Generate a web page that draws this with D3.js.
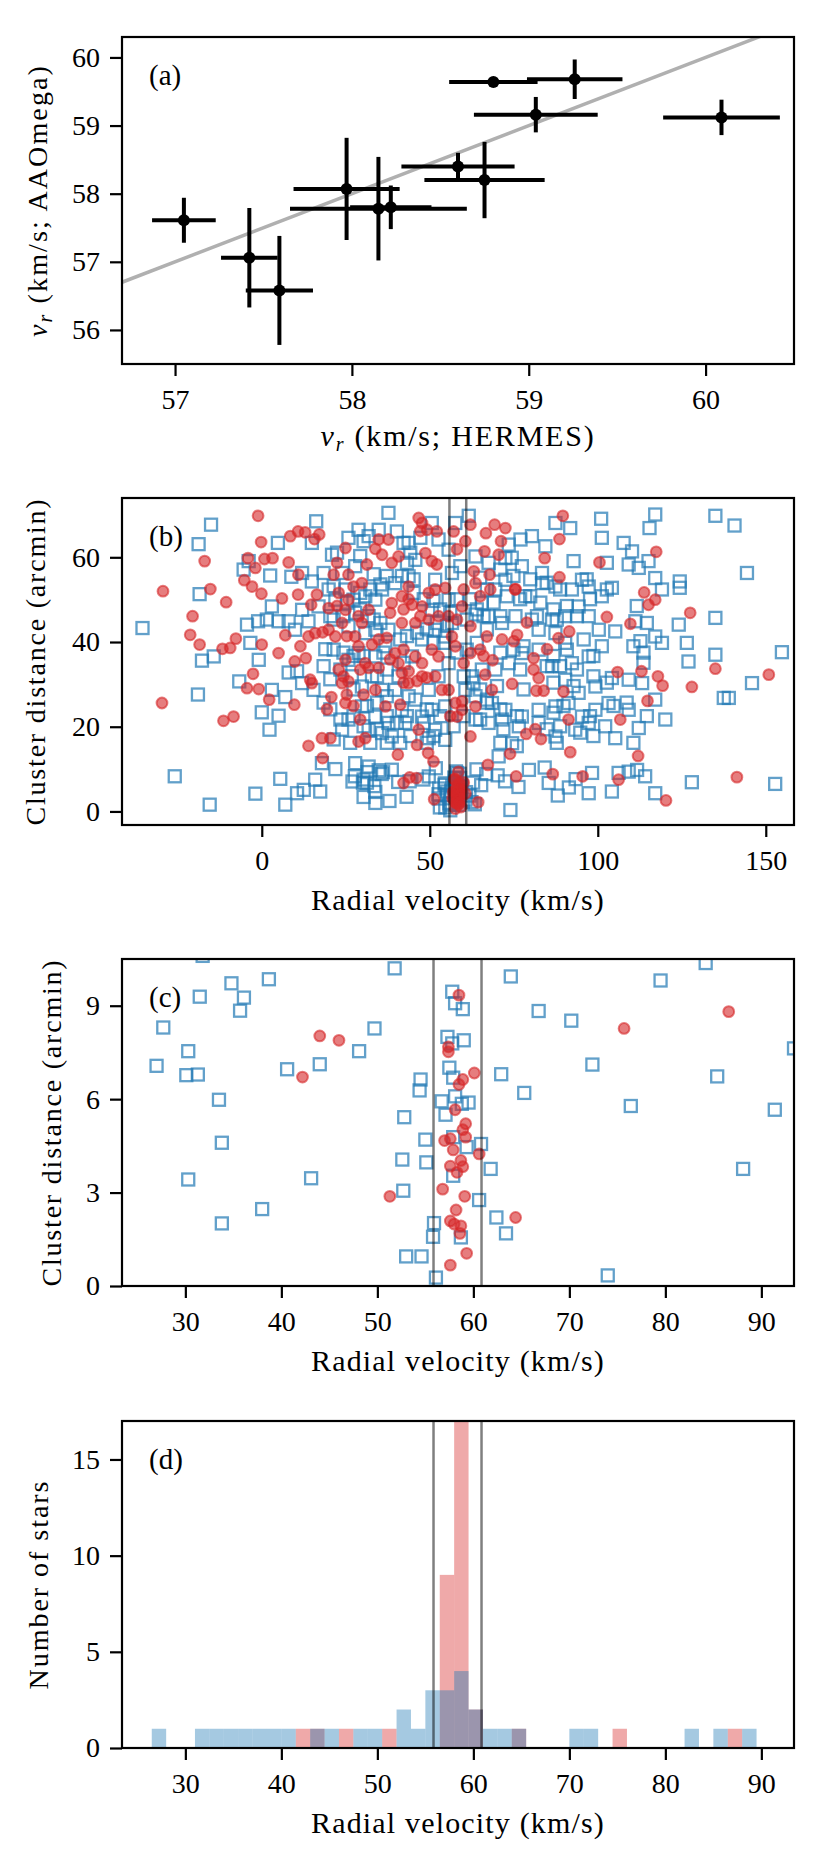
<!DOCTYPE html>
<html>
<head>
<meta charset="utf-8">
<script src="https://cdn.jsdelivr.net/npm/d3@7"></script>
<style>
  html, body { margin: 0; padding: 0; background: #fff; }
  text { font-family: "Liberation Serif", "DejaVu Serif", serif; }
</style>
</head>
<body>
<div id="fig"></div>
<script>
// ---- panel (a): HERMES vs AAOmega velocities ----
var hermesV   = [57.05, 57.42, 57.59, 57.97, 58.15, 58.22, 58.60, 58.75, 58.80, 59.04, 59.26, 60.09];
var hermesErr = [0.18, 0.16, 0.19, 0.30, 0.50, 0.23, 0.32, 0.34, 0.25, 0.35, 0.27, 0.33];
var aaoV      = [57.61, 57.06, 56.58, 58.07, 57.78, 57.80, 58.40, 58.20, 59.64, 59.16, 59.68, 59.12];
var aaoErr    = [0.33, 0.73, 0.80, 0.75, 0.76, 0.32, 0.20, 0.56, 0.05, 0.26, 0.29, 0.26];

// ---- panels (b), (c): [radial velocity, cluster distance] ----
// stars close to the cluster (the region shown in panel c)
var nearBlue = [[27.0,7.07],[27.7,8.30],[30.3,7.54],[30.1,6.77],[31.3,6.79],[31.5,9.29],[34.8,9.72],[36.1,9.26],
  [35.7,8.84],[38.7,9.85],[33.5,5.98],[33.8,4.60],[30.3,3.42],[33.8,2.01],[38.0,2.47],[43.1,3.46],[40.6,6.96],
  [44.0,7.12],[48.1,7.54],[49.7,8.27],[51.8,10.2],[54.5,6.63],[54.4,6.28],[52.8,5.42],[55.0,4.70],[55.1,3.97],
  [52.6,4.06],[52.7,3.06],[53.0,0.95],[54.6,0.95],[55.9,2.02],[55.8,1.58],[56.1,0.27],[57.8,9.45],[58.1,9.08],
  [58.9,8.89],[57.3,8.00],[59.0,7.89],[57.8,7.79],[57.5,7.01],[57.9,6.69],[56.7,5.93],[59.5,5.89],[57.1,5.50],
  [58.1,6.09],[58.8,5.85],[57.9,4.78],[59.3,4.46],[60.8,4.56],[61.8,3.76],[57.9,3.54],[60.6,2.76],[62.4,2.20],
  [63.4,1.69],[58.7,1.56],[62.9,6.80],[63.9,9.94],[65.3,6.20],[66.8,8.83],[70.2,8.52],[72.4,7.11],[76.4,5.78],
  [79.5,9.81],[84.2,10.37],[85.4,6.73],[88.1,3.76],[91.4,5.66],[93.4,7.63],[74.0,0.34]];
var nearRed = [[44.0,8.03],[46.0,7.89],[42.2,6.71],[51.3,2.88],[58.5,9.34],[57.4,7.68],[57.4,7.52],[60.1,6.84],
  [58.9,6.63],[58.5,6.47],[58.1,5.66],[59.2,5.21],[58.9,5.02],[59.2,4.78],[57.0,4.67],[57.6,4.73],[57.9,4.37],
  [60.6,4.24],[58.7,4.03],[57.6,3.85],[58.9,3.83],[58.3,3.65],[56.8,3.11],[59.1,2.88],[58.2,2.44],[57.6,2.09],
  [58.0,1.99],[58.7,1.93],[58.6,1.69],[59.3,1.05],[57.6,0.67],[64.4,2.20],[75.7,8.27],[86.6,8.81]];
// the rest of the field
var farBlue = [[-35.5,43.3],[-15.1,67.7],[-18.8,63.1],[-18.5,51.3],[-17.8,35.6],[-14.3,36.6],[-19.0,27.6],
  [-25.9,8.3],[-15.5,1.6],[-1.9,4.2],[5.5,7.7],[7.0,1.6],[2.3,19.3],[0,23.4],[5.0,22.6],[3.0,28.7],[7.0,27.0],
  [-6.7,30.7],[-3.4,39.8],[-0.9,35.8],[-4.4,44.1],[-1.1,44.9],[1.5,45.3],[5.0,44.9],[8.0,44.9],[3.0,48.4],
  [2.5,55.7],[4.8,63.4],[-3.9,59.1],[-5.4,57.1],[8.8,55.4],[12.0,56.3],[14.9,54.3],[16.2,68.5],[14.9,63.4],
  [12.0,47.6],[13.9,44.9],[10.5,33.1],[8.0,32.8],[12.0,30.3],[15.4,28.7],[18.9,38.3],[17.9,11.4],[21.9,10.0],
  [15.9,7.5],[17.4,4.7],[12.5,5.1],[10.5,4.3],[21.4,45.3],[25.8,43.7],[27.8,46.9],[24.9,52.4],[23.9,56.3],
  [20.9,60.6],[25.8,64.6],[28.8,66.5],[31.8,65.0],[34.8,66.5],[37.7,70.5],[40.2,66.1],[43.7,63.4],[45.7,59.4],
  [43.7,55.5],[39.7,53.9],[35.8,52.4],[33.8,50.0],[30.8,50.8],[30.8,42.1],[33.8,42.9],[37.7,42.9],[36.8,39.0],
  [33.8,36.6],[28.8,37.4],[25.8,35.8],[26.8,31.9],[29.8,29.5],[32.8,31.9],[35.8,28.7],[39.7,28.7],[43.7,27.2],
  [41.7,24.0],[37.7,20.9],[33.8,22.4],[29.8,24.8],[25.8,21.7],[23.9,19.3],[31.8,19.3],[35.8,18.5],[38.7,17.7],
  [42.7,20.9],[47.7,22.4],[50.6,24.0],[54.6,24.8],[51.6,19.3],[54.6,16.9],[49.7,17.3],[45.7,26.4],[49.7,28.7],
  [52.6,31.9],[55.6,35.0],[47.7,40.6],[51.6,42.9],[54.6,41.3],[56.6,44.5],[50.6,47.6],[55.6,50.0],[51.6,54.7],
  [56.6,56.3],[55.6,61.8],[52.6,64.2],[50.6,68.1],[57.6,68.1],[27.8,11.4],[31.8,10.6],[40.7,31.9],[44.7,36.6],
  [31.8,46.1],[27.8,57.9],[19.9,52.4],[16.9,48.4],[9.9,42.9],
  [61.6,69.8],[87.4,68.1],[91.8,66.9],[101.0,69.1],[117.1,70.1],[115.4,66.9],[135.0,69.8],[140.7,67.5],
  [101.2,64.6],[107.7,63.4],[110.2,61.4],[80.4,65.0],[77.0,64.2],[73.5,63.0],[84.4,62.6],[92.8,59.1],
  [102.7,58.7],[109.2,58.3],[112.2,57.5],[115.1,59.1],[117.1,55.1],[119.1,52.4],[124.4,54.3],[124.4,52.8],
  [144.4,56.3],[104.2,52.8],[101.2,50.8],[95.3,54.7],[97.3,53.1],[92.3,52.4],[87.4,53.1],[83.4,53.9],
  [78.4,50.8],[72.5,54.7],[69.5,52.4],[65.5,49.2],[63.6,46.5],[67.5,46.1],[71.5,44.5],[75.5,46.1],[80.4,45.3],
  [86.4,45.3],[90.3,46.1],[94.3,48.4],[97.3,46.1],[100.3,42.9],[105.2,42.5],[111.2,44.9],[112.7,40.2],
  [117.1,41.3],[119.1,39.8],[124.1,44.1],[126.5,39.8],[127.0,35.4],[135.0,45.7],[135.0,37.0],[154.8,37.6],
  [145.9,30.3],[137.5,26.8],[139.0,26.8],[120.1,21.7],[117.1,26.4],[113.2,30.3],[109.2,31.1],[104.2,31.5],
  [99.3,29.5],[94.3,28.0],[90.3,31.1],[86.4,34.3],[82.4,38.2],[77.4,37.4],[73.5,35.0],[69.5,33.5],[65.5,33.5],
  [62.6,31.9],[60.6,28.7],[63.6,27.2],[68.5,25.6],[72.5,24.0],[77.4,22.4],[82.4,24.0],[87.4,24.8],[91.3,25.6],
  [95.3,22.4],[99.3,24.0],[103.2,25.6],[109.2,24.0],[112.2,19.7],[105.2,17.3],[102.2,20.1],[97.3,20.9],
  [93.3,19.3],[87.4,17.7],[82.4,20.9],[76.5,20.1],[71.5,21.7],[67.5,20.9],[63.6,21.7],[74.5,16.1],[70.5,13.0],
  [92.3,35.0],[97.3,36.6],[101.2,39.0],[90.3,39.8],[87.4,42.1],[82.4,42.9],[83.4,56.3],[77.4,57.9],[72.5,59.8],
  [67.5,58.7],[63.6,60.2],[98.3,9.1],[97.3,4.3],[104.2,4.7],[106.2,9.1],[109.2,9.4],[111.7,9.8],[114.1,8.3],
  [117.1,4.3],[128.0,6.9],[152.8,6.5]];
// extra stars (b)
var coreBlue = [[30.3,63.8],[42.2,63.4],[44.2,61.1],[47.2,64.6],[43.2,58.7],[41.7,55.6],[45.2,54.8],[37.2,55.6],
  [35.3,53.6],[32.3,52.4],[29.3,51.6],[27.3,50.0],[25.3,49.3],[21.9,50.0],[21.4,53.2],[18.4,56.3],[22.4,61.1],
  [29.3,60.3],[33.3,56.0],[45.2,51.6],[48.2,50.1],[51.1,49.7],[53.1,47.7],[56.1,46.9],[58.1,50.1],[59.1,57.9],
  [65.0,55.2],[67.0,52.4],[62.0,50.1],[64.0,47.7],[66.0,46.1],[61.0,45.3],[55.1,43.8],[52.1,44.5],[49.1,43.0],
  [46.2,42.2],[43.2,41.4],[41.2,40.6],[35.3,44.5],[33.3,45.3],[29.3,47.7],[24.3,46.1],[20.4,46.1],[21.4,38.2],
  [24.3,37.5],[27.3,36.7],[30.3,36.7],[36.2,37.5],[42.2,35.1],[51.1,39.8],[54.1,39.8],[58.1,37.5],[61.0,38.2],
  [64.0,39.8],[60.1,31.9],[63.0,30.4],[65.0,28.8],[67.0,26.4],[60.1,22.5],[65.0,21.7],[57.1,20.1],[53.1,22.5],
  [49.1,24.1],[37.2,27.2],[34.3,25.7],[31.3,24.9],[27.3,22.5],[23.4,21.7],[20.4,24.1],[18.4,25.7],[37.2,22.5],
  [40.2,20.9],[43.2,22.5],[48.2,20.9],[51.1,17.8],[49.1,16.2],[44.2,17.8],[34.3,19.4],[30.3,20.1],[21.4,17.0],
  [26.3,16.2],[32.3,16.2],[37.2,16.2],[41.2,16.2],[23.4,33.5],[20.4,31.2],[18.4,34.3],[37.2,33.5],[34.3,31.9],
  [27.3,28.8],
  [74.4,59.9],[71.0,57.1],[74.9,55.6],[79.9,54.8],[84.8,54.0],[88.8,52.4],[96.7,54.8],[97.7,50.1],[102.7,52.4],
  [90.8,48.5],[86.8,47.7],[82.9,49.3],[79.9,50.8],[76.9,50.1],[72.9,50.8],[69.0,49.3],[71.0,46.1],[81.9,46.1],
  [87.8,45.3],[93.8,46.1],[111.6,48.5],[114.6,44.5],[67.0,43.0],[71.0,37.5],[74.9,38.2],[77.9,39.0],[86.8,36.7],
  [90.8,38.2],[95.8,40.6],[98.7,36.7],[110.6,39.0],[113.6,37.5],[76.9,33.5],[84.8,34.3],[88.8,34.3],[93.8,33.5],
  [98.7,31.9],[102.7,30.4],[113.6,35.1],[70.0,29.6],[77.9,28.8],[86.8,30.4],[92.8,29.6],[67.0,25.7],[71.0,24.1],
  [75.9,22.5],[86.8,23.3],[89.8,24.9],[97.7,22.5],[104.7,24.9],[108.6,25.7],[114.6,22.5],[71.9,19.4],[84.8,19.4],
  [88.8,20.1],[94.8,18.6],[98.7,17.8],[110.6,16.2],[71.0,16.2],[75.9,15.4],[87.8,16.2]];
var farRed = [[-1.1,69.8],[-0.2,63.6],[-17.0,59.1],[-29.4,52.0],[-15.3,52.5],[-10.6,49.4],[-20.6,46.1],
  [-21.3,41.7],[-18.5,39.4],[-11.7,38.4],[-9.4,38.6],[-7.7,40.8],[-4.1,59.8],[-1.9,57.5],[0.8,59.6],[3.2,59.8],
  [8.0,58.8],[-5.2,54.6],[-2.9,53.1],[-0.1,51.4],[-2.6,32.5],[-4.4,29.1],[-0.9,28.9],[2.2,26.4],[-29.7,25.6],
  [-11.4,21.4],[-8.4,22.4],[0,39.4],[5.0,37.4],[7.0,41.6],[9.8,35.4],[11.5,39.0],[13.1,36.2],[14.4,31.1],
  [14.9,30.3],[9.7,25.2],[13.9,15.5],[17.9,17.3],[20.4,17.3],[18.1,12.6],[6.0,50.3],[10.8,51.2],[14.7,48.8],
  [16.4,51.2],[10.9,55.9],[8.5,65.0],[10.8,66.1],[12.9,65.9],[15.7,64.3],[17.1,65.4],[13.9,41.3],[15.9,42.1],
  [18.1,42.3],[19.9,42.9],[21.9,41.3],[23.9,44.5],[24.9,35.8],[22.9,33.5],[23.9,30.3],[25.8,30.7],[20.7,27.0],
  [24.9,25.6],[29.3,21.7],[28.8,16.5],[30.8,17.3],[24.9,47.6],[25.8,50.0],[22.9,51.6],[27.3,53.1],[25.8,55.9],
  [29.8,53.9],[21.4,55.9],[22.4,58.7],[24.9,62.2],[19.9,48.0],[31.8,47.6],[29.8,44.5],[27.8,41.3],[32.8,39.4],
  [34.8,40.6],[30.8,35.0],[31.8,33.9],[34.8,33.9],[33.8,28.7],[36.8,24.8],[41.2,25.2],[38.7,49.2],[41.7,50.8],
  [43.7,53.1],[44.7,48.8],[47.7,48.4],[49.7,51.6],[51.6,52.4],[54.6,52.8],[39.7,37.4],[40.7,35.0],[41.7,32.7],
  [43.7,33.1],[45.7,36.6],[47.7,35.0],[50.6,38.2],[52.6,36.6],[51.6,31.9],[53.6,28.7],[43.7,30.3],[47.7,31.9],
  [46.7,19.3],[46.2,15.7],[49.5,13.8],[51.1,11.8],[40.5,13.4],[35.8,60.6],[37.7,64.2],[34.8,64.2],[40.7,60.2],
  [38.7,58.7],[46.7,69.3],[47.7,68.1],[49.2,66.5],[52.1,66.1],[48.7,61.0],[50.6,59.1],[52.1,58.3],[31.3,58.3],
  [41.7,44.5],[45.7,44.5],[49.7,45.3],[52.6,46.1],[55.6,46.1],[56.6,41.3],[57.6,39.0],[55.6,28.7],[57.6,25.6],
  [58.1,22.4],[57.1,66.1],
  [89.6,69.8],[88.6,64.3],[84.2,59.8],[100.5,58.8],[117.4,61.3],[88.6,55.3],[75.5,52.5],[78.9,44.6],[91.5,42.5],
  [88.3,40.9],[84.9,38.3],[80.9,36.2],[80.9,33.5],[82.4,31.5],[81.7,28.5],[83.9,28.5],[89.8,28.3],[74.5,30.1],
  [68.5,28.7],[66.5,32.3],[68.7,35.7],[65.0,38.2],[62.1,37.4],[60.1,35.0],[67.0,41.3],[71.5,40.6],[75.0,40.2],
  [76.0,41.7],[102.7,45.9],[109.7,44.3],[113.8,51.7],[115.1,48.8],[117.1,50.0],[127.5,46.9],[105.9,32.9],
  [113.0,33.1],[117.9,31.9],[119.3,29.7],[114.8,26.1],[128.0,29.4],[135.0,33.7],[150.9,32.3],[91.3,21.7],
  [106.7,21.7],[78.7,18.3],[81.4,19.4],[83.1,17.1],[73.9,13.6],[91.8,14.0],[112.0,13.1],[67.3,11.0],[62.1,17.7],
  [59.6,24.0],[63.6,24.8],[59.6,26.0],[141.4,8.1],[120.3,2.6],[106.2,7.5],[95.5,8.3],[62.1,67.7],[69.3,67.7],
  [72.5,66.9],[66.7,65.7],[71.2,63.8],[70.5,60.6],[66.3,61.4],[60.6,63.8],[63.1,56.7],[67.8,55.9],[63.6,53.9],
  [60.1,52.4],[68.0,52.4],[59.6,48.4],[62.1,43.7]];
var coreRed = [[47.2,66.2],[33.8,62.0],[58.1,61.9],[43.7,50.1],[47.2,46.1],[42.2,47.7],[38.2,46.9],[28.8,46.1],
  [22.4,48.5],[25.3,41.4],[37.2,41.0],[28.8,39.0],[38.2,35.9],[42.2,38.2],[46.2,30.8],[49.1,31.6],[42.2,30.4],
  [29.3,33.5],[24.3,31.9],[25.3,27.6],[30.3,27.6],[27.3,24.9],[19.4,24.1],[58.1,45.3],[65.0,50.8],[56.1,22.5],
  [66.0,36.7],[75.4,52.4]];

// velocity window around the cluster mean
var velCut = [55.85, 60.85];

// ---- panel (d): histogram ----
var binEdges = [26.5,28,29.5,31,32.5,34,35.5,37,38.5,40,41.5,43,44.5,46,47.5,49,50.5,52,53.5,55,56.5,58,59.5,
  61,62.5,64,65.5,67,68.5,70,71.5,73,74.5,76,77.5,79,80.5,82,83.5,85,86.5,88,89.5];
var histBlue = [1,0,0,1,1,1,1,1,1,1,0,1,1,0,1,1,0,2,1,3,3,4,2,1,1,1,0,0,0,1,1,0,0,0,0,0,0,1,0,1,0,1];
var histRed  = [0,0,0,0,0,0,0,0,0,0,1,1,0,1,0,0,1,0,0,0,9,17,2,0,0,1,0,0,0,0,0,0,1,0,0,0,0,0,0,0,1,0];

// tick labels
var ticksAx = [57, 58, 59, 60], ticksAy = [56, 57, 58, 59, 60];
var ticksBx = [0, 50, 100, 150], ticksBy = [0, 20, 40, 60];
var ticksCx = [30, 40, 50, 60, 70, 80, 90], ticksCy = [0, 3, 6, 9];
var ticksDy = [0, 5, 10, 15];

// ---- layout ----
var W = 831, H = 1864;
var left = 122, PW = 672, PH = 327;
var FS = 28, LFS = 30;
var blue = "#1f77b4", red = "#d62728";

var svg = d3.select("#fig").append("svg")
    .attr("width", W).attr("height", H)
    .style("background", "#fff");

function panel(key, top, xDom, yDom, xTicks, yTicks) {
  var g = svg.append("g").attr("transform", "translate(" + left + "," + top + ")");
  var x = d3.scaleLinear().domain(xDom).range([0, PW]);
  var y = d3.scaleLinear().domain(yDom).range([PH, 0]);
  g.append("clipPath").attr("id", "clip" + key)
    .append("rect").attr("width", PW).attr("height", PH);
  var plot = g.append("g").attr("clip-path", "url(#clip" + key + ")");

  var xa = g.append("g").attr("transform", "translate(0," + PH + ")")
    .call(d3.axisBottom(x).tickValues(xTicks).tickFormat(d3.format("d"))
      .tickSize(12).tickSizeOuter(0).tickPadding(13));
  var ya = g.append("g")
    .call(d3.axisLeft(y).tickValues(yTicks).tickFormat(d3.format("d"))
      .tickSize(12).tickSizeOuter(0).tickPadding(10));
  [xa, ya].forEach(function(a) {
    a.select(".domain").remove();
    a.attr("font-family", null).attr("font-size", null);
    a.selectAll("line").attr("stroke", "#000").attr("stroke-width", 2.2);
    a.selectAll("text").attr("fill", "#000").style("font-size", FS + "px");
  });
  g.append("text").attr("x", 27).attr("y", 48)
    .style("font-size", (FS + 1) + "px").text("(" + key + ")");
  return {g: g, plot: plot, x: x, y: y};
}

function frame(p) {
  p.g.append("rect").attr("width", PW).attr("height", PH)
    .attr("fill", "none").attr("stroke", "#000").attr("stroke-width", 2.2);
}

// stretch a label's letter spacing so it spans the same length as in the figure
function fit(t, len) {
  var w = t.node().getComputedTextLength();
  var n = t.text().length;
  t.style("letter-spacing", ((len - w) / n) + "px");
}

function xLabel(p, parts, dy, len) {
  var t = p.g.append("text").attr("x", PW / 2).attr("y", PH + dy)
    .attr("text-anchor", "middle").style("font-size", LFS + "px");
  addParts(t, parts);
  fit(t, len);
}

function yLabel(p, parts, bx, len) {
  var t = p.g.append("text")
    .attr("transform", "translate(" + (bx - left) + "," + (PH / 2) + ") rotate(-90)")
    .attr("text-anchor", "middle").style("font-size", FS + "px");
  addParts(t, parts);
  fit(t, len);
}

// parts: plain string, or "v_r" math prefix
function addParts(t, parts) {
  if (parts.math) {
    t.append("tspan").style("font-style", "italic").text("v");
    t.append("tspan").style("font-style", "italic").style("font-size", "20px").attr("dy", 5).text("r");
    t.append("tspan").attr("dy", -5).text(" " + parts.text);
  } else {
    t.text(parts.text);
  }
}

function vLines(p) {
  p.plot.selectAll("line.cut").data(velCut).join("line").attr("class", "cut")
    .attr("x1", function(d) { return p.x(d); }).attr("x2", function(d) { return p.x(d); })
    .attr("y1", 0).attr("y2", PH)
    .attr("stroke", "#000").attr("stroke-opacity", 0.5).attr("stroke-width", 2.5);
}

function scatter(p) {
  p.plot.selectAll("rect.bl").data(farBlue.concat(coreBlue, nearBlue)).join("rect").attr("class", "bl")
    .attr("x", function(d) { return p.x(d[0]) - 6; })
    .attr("y", function(d) { return p.y(d[1]) - 6; })
    .attr("width", 12).attr("height", 12)
    .attr("fill", "none").attr("stroke", blue).attr("stroke-opacity", 0.7).attr("stroke-width", 2.3);
  p.plot.selectAll("circle.rd").data(farRed.concat(coreRed, nearRed)).join("circle").attr("class", "rd")
    .attr("cx", function(d) { return p.x(d[0]); })
    .attr("cy", function(d) { return p.y(d[1]); })
    .attr("r", 5.4)
    .attr("fill", red).attr("fill-opacity", 0.6)
    .attr("stroke", red).attr("stroke-opacity", 0.6).attr("stroke-width", 2);
}

// (a)
var pa = panel("a", 37, [56.7, 60.5], [55.5, 60.3], ticksAx, ticksAy);
pa.plot.append("line")
  .attr("x1", pa.x(56.7)).attr("y1", pa.y(56.7))
  .attr("x2", pa.x(60.5)).attr("y2", pa.y(60.5))
  .attr("stroke", "#b0b0b0").attr("stroke-width", 3.5);
hermesV.forEach(function(h, i) {
  var gx = pa.x(h), gy = pa.y(aaoV[i]);
  pa.plot.append("line")
    .attr("x1", pa.x(h - hermesErr[i])).attr("x2", pa.x(h + hermesErr[i]))
    .attr("y1", gy).attr("y2", gy).attr("stroke", "#000").attr("stroke-width", 4);
  pa.plot.append("line")
    .attr("x1", gx).attr("x2", gx)
    .attr("y1", pa.y(aaoV[i] - aaoErr[i])).attr("y2", pa.y(aaoV[i] + aaoErr[i]))
    .attr("stroke", "#000").attr("stroke-width", 4);
  pa.plot.append("circle").attr("cx", gx).attr("cy", gy).attr("r", 6).attr("fill", "#000");
});
frame(pa);
xLabel(pa, {math: true, text: "(km/s; HERMES)"}, 82, 275);
yLabel(pa, {math: true, text: "(km/s; AAOmega)"}, 47, 273);

// (b)
var pb = panel("b", 498, [-41.6, 158.4], [-3.2, 74], ticksBx, ticksBy);
scatter(pb);
vLines(pb);
frame(pb);
xLabel(pb, {text: "Radial velocity (km/s)"}, 85, 294);
yLabel(pb, {text: "Cluster distance (arcmin)"}, 45, 328);

// (c)
var pc = panel("c", 959, [23.4, 93.4], [0, 10.5], ticksCx, ticksCy);
scatter(pc);
vLines(pc);
frame(pc);
xLabel(pc, {text: "Radial velocity (km/s)"}, 85, 294);
yLabel(pc, {text: "Cluster distance (arcmin)"}, 61, 328);

// (d)
var pd = panel("d", 1421, [23.4, 93.4], [0, 17], ticksCx, ticksDy);
function bars(counts, color, cls) {
  var rows = counts.map(function(c, i) { return {x0: binEdges[i], x1: binEdges[i + 1], n: c}; })
    .filter(function(r) { return r.n > 0; });
  pd.plot.selectAll("rect." + cls).data(rows).join("rect").attr("class", cls)
    .attr("x", function(d) { return pd.x(d.x0); })
    .attr("width", function(d) { return pd.x(d.x1) - pd.x(d.x0); })
    .attr("y", function(d) { return pd.y(d.n); })
    .attr("height", function(d) { return pd.y(0) - pd.y(d.n); })
    .attr("fill", color).attr("fill-opacity", 0.4);
}
bars(histRed, red, "hr");
bars(histBlue, blue, "hb");
vLines(pd);
frame(pd);
xLabel(pd, {text: "Radial velocity (km/s)"}, 85, 294);
yLabel(pd, {text: "Number of stars"}, 48, 210);
</script>
</body>
</html>
